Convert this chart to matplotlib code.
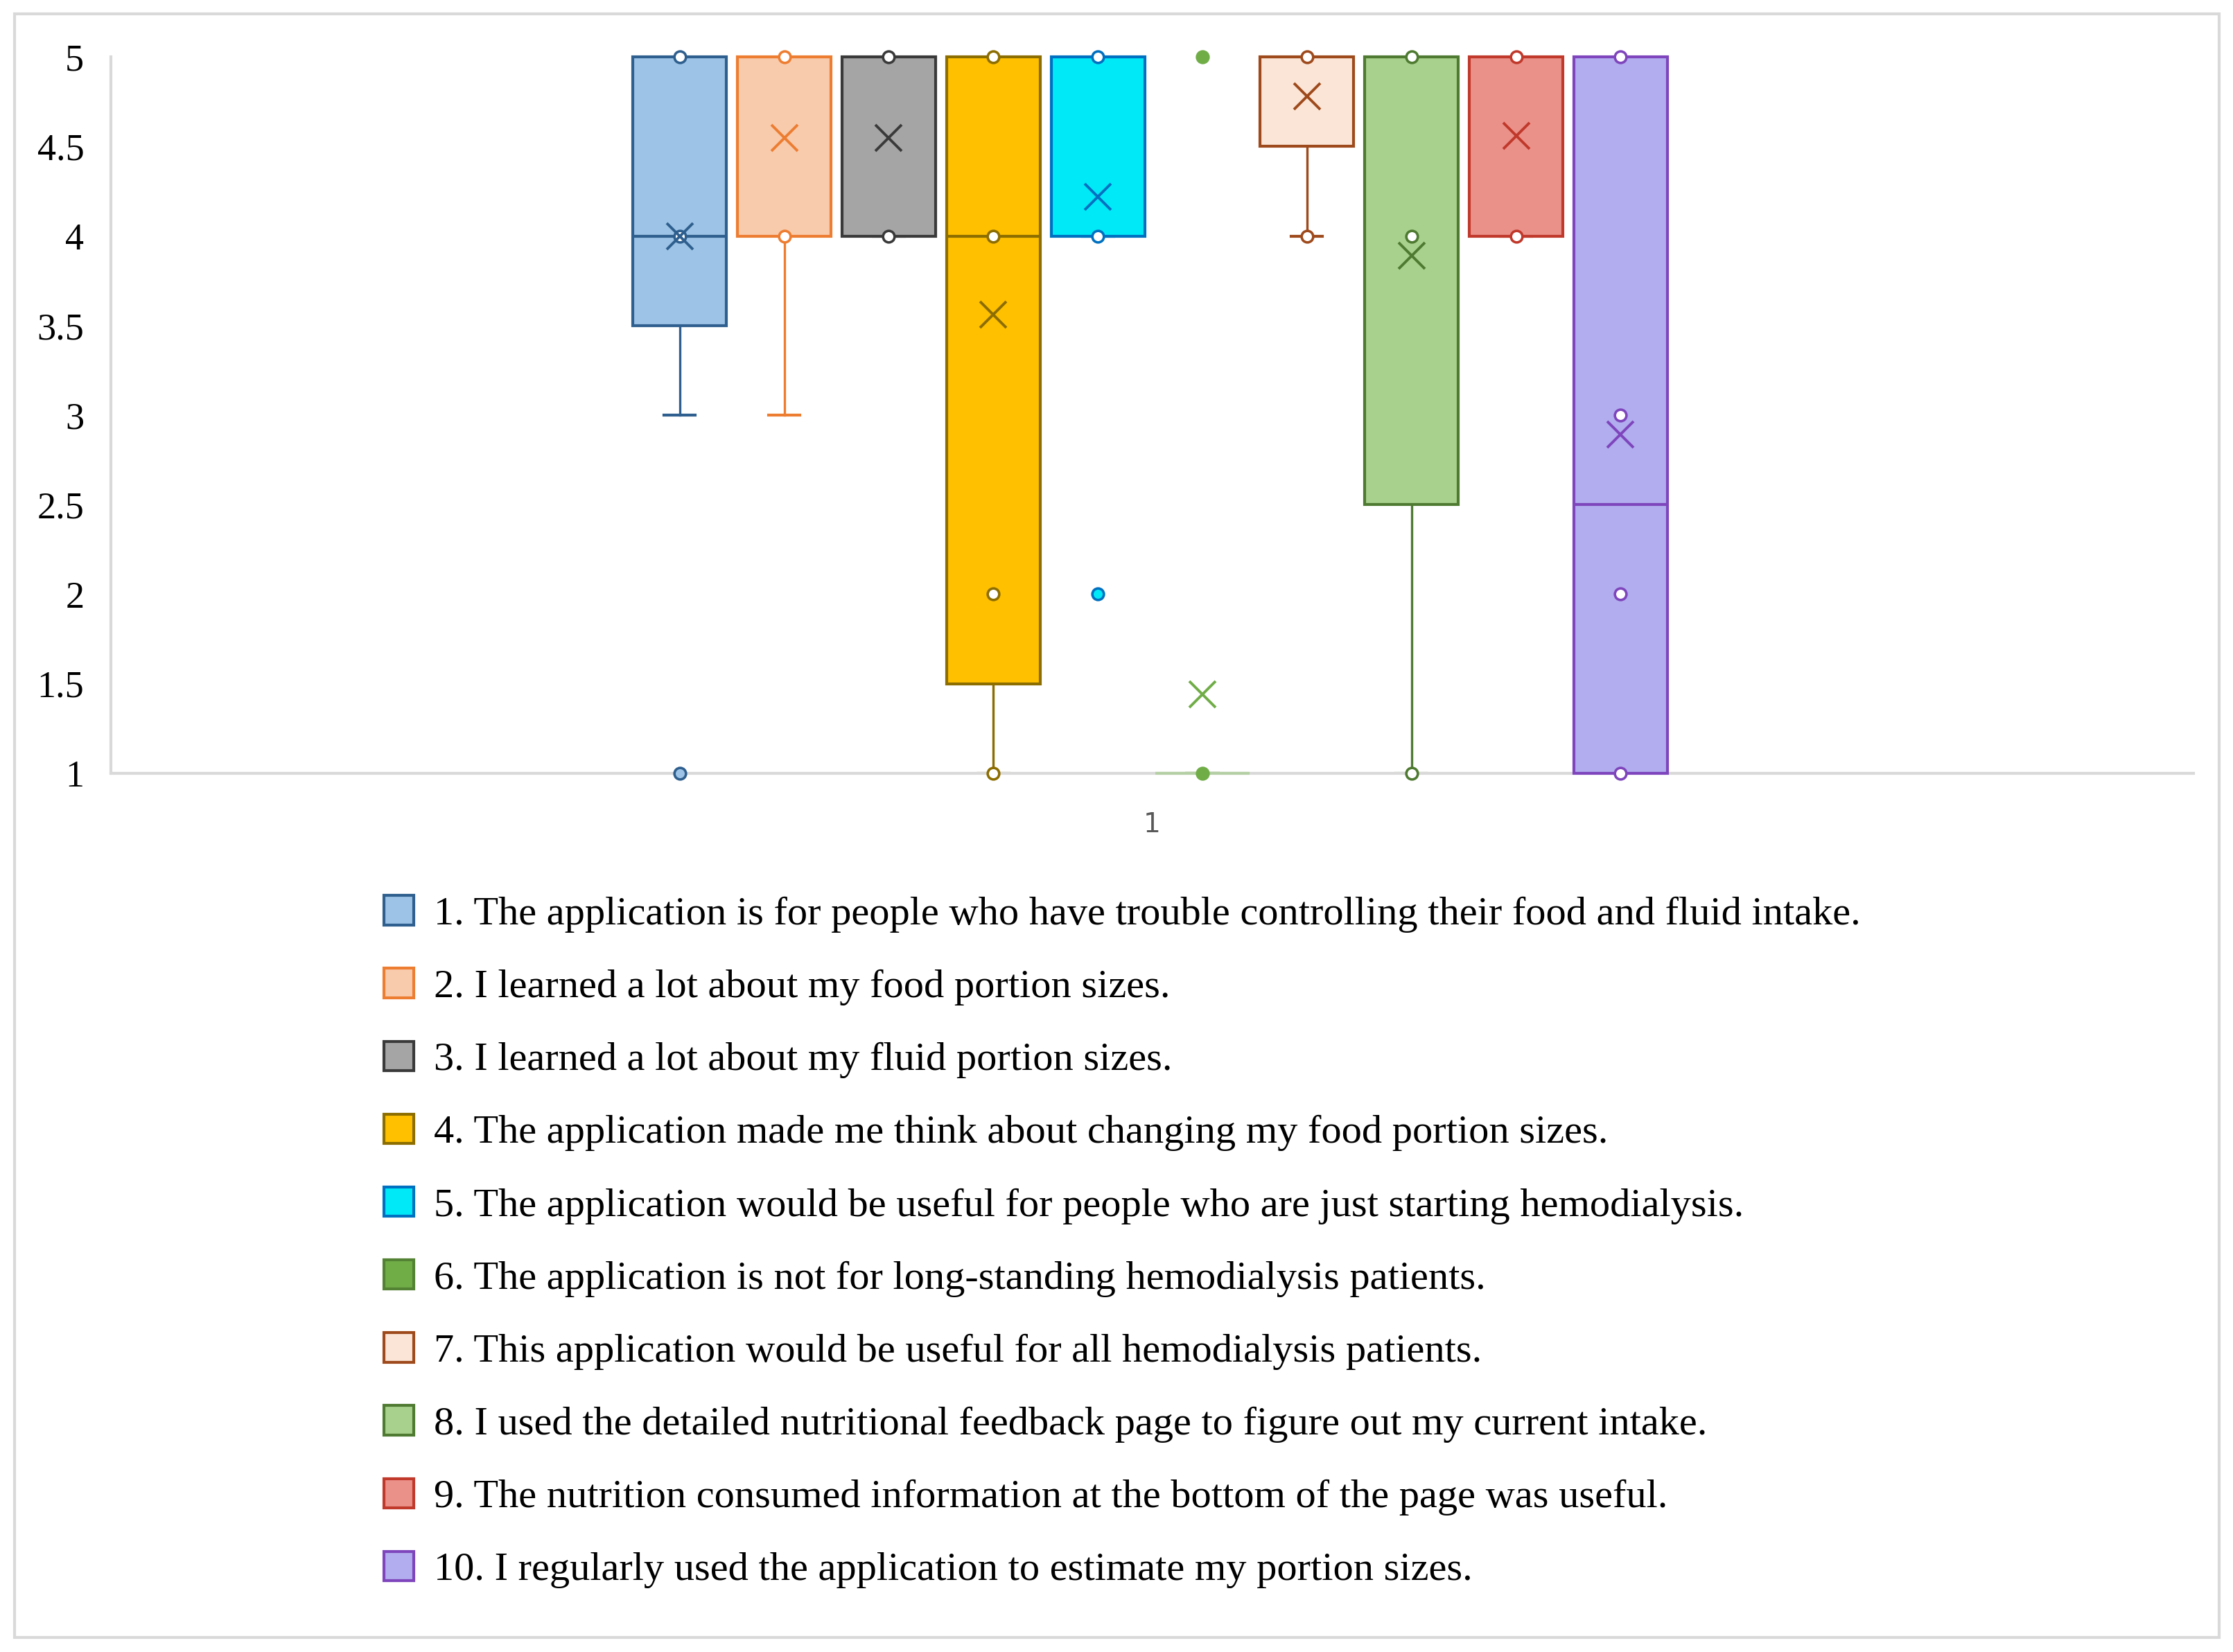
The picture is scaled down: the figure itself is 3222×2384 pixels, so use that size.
import matplotlib
matplotlib.use("Agg")
import matplotlib.pyplot as plt
from matplotlib.patches import Patch, Rectangle

plt.rcParams['font.family'] = ['Liberation Serif', 'DejaVu Serif']

# survey statements (legend labels)
labels = [
    "1. The application is for people who have trouble controlling their food and fluid intake.",
    "2. I learned a lot about my food portion sizes.",
    "3. I learned a lot about my fluid portion sizes.",
    "4. The application made me think about changing my food portion sizes.",
    "5. The application would be useful for people who are just starting hemodialysis.",
    "6. The application is not for long-standing hemodialysis patients.",
    "7. This application would be useful for all hemodialysis patients.",
    "8. I used the detailed nutritional feedback page to figure out my current intake.",
    "9. The nutrition consumed information at the bottom of the page was useful.",
    "10. I regularly used the application to estimate my portion sizes.",
]

# box statistics
q1s = [3.5, 4, 4, 1.5, 4, 1, 4.5, 2.5, 4, 1]
meds = [4, 5, 5, 4, 5, 1, 5, 5, 5, 2.5]
q3s = [5, 5, 5, 5, 5, 1, 5, 5, 5, 5]
lows = [3, 3, 4, 1, 4, 1, 4, 1, 4, 1]
highs = [5, 5, 5, 5, 5, 1, 5, 5, 5, 5]
means = [4.0, 4.55, 4.55, 3.56, 4.22, 1.44, 4.78, 3.89, 4.56, 2.89]
inner_pts = [[5, 4], [5, 4], [5, 4], [5, 4, 2, 1], [5, 4], [], [5, 4], [5, 4, 1], [5, 4], [5, 3, 2, 1]]
outliers = [[1], [], [], [], [2], [5, 1], [], [], [], []]

fills = ['#9DC3E6', '#F8CBAD', '#A5A5A5', '#FFC000', '#00E9F7',
         '#70AD47', '#FBE5D6', '#A9D18E', '#EA918A', '#B1ADEE']
edges = ['#2F5F8E', '#ED7D31', '#3A3A3A', '#8C6D00', '#0070C0',
         '#548235', '#9E4A1C', '#4E7A31', '#C0392B', '#7E45BC']

fig = plt.figure(figsize=(16.115, 11.92), dpi=200)
fig.patches.append(Rectangle((0.0064, 0.0086), 0.987, 0.983, transform=fig.transFigure,
                             fill=False, edgecolor='#D9D9D9', linewidth=1.5))
ax = fig.add_axes([0.0497, 0.532, 0.9323, 0.4335])

pos = [0.998 + (i - 4.5) * 0.1004 for i in range(10)]
stats = []
for i in range(10):
    stats.append(dict(q1=q1s[i], med=meds[i], q3=q3s[i], whislo=lows[i], whishi=highs[i],
                      mean=means[i], fliers=[]))

bp = ax.bxp(stats, positions=pos, widths=0.09, patch_artist=True, showmeans=True,
            showfliers=False, capwidths=0.03, manage_ticks=False)
for i in range(10):
    ec = edges[i]
    if i == 5:
        ec = '#B5CFA5'
    bp['boxes'][i].set_facecolor(fills[i])
    bp['boxes'][i].set_edgecolor(ec)
    bp['boxes'][i].set_linewidth(1.5)
    bp['boxes'][i].set_clip_on(False)
    bp['boxes'][i].set_zorder(3)
    bp['medians'][i].set_color(ec)
    bp['medians'][i].set_linewidth(1.5)
    bp['medians'][i].set_zorder(3.5)
    for w in bp['whiskers'][2 * i:2 * i + 2]:
        w.set_color(edges[i])
        w.set_linewidth(1.2)
    for c in bp['caps'][2 * i:2 * i + 2]:
        c.set_color(edges[i])
        c.set_linewidth(1.5)
    m = bp['means'][i]
    m.set_marker('x')
    m.set_markersize(14)
    m.set_markeredgewidth(1.4)
    m.set_markeredgecolor(edges[i] if i != 5 else '#70AD47')
    m.set_zorder(5)
    if inner_pts[i]:
        ax.plot([pos[i]] * len(inner_pts[i]), inner_pts[i], 'o', ms=6, mfc='white',
                mec=edges[i], mew=1.3, zorder=4, clip_on=False)
    if outliers[i]:
        ax.plot([pos[i]] * len(outliers[i]), outliers[i], 'o', ms=6, mfc=fills[i],
                mec=edges[i] if i != 5 else '#70AD47', mew=1.3, zorder=4, clip_on=False)

ax.set_xlim(0, 2)
ax.set_ylim(1, 5)
ax.set_yticks([1, 1.5, 2, 2.5, 3, 3.5, 4, 4.5, 5])
ax.set_yticklabels(['1', '1.5', '2', '2.5', '3', '3.5', '4', '4.5', '5'], fontsize=19.5)
ax.set_xticks([1])
ax.set_xticklabels(['1'], fontsize=14, color='#595959', family=['DejaVu Sans'])
ax.tick_params(axis='y', length=0, pad=14)
ax.tick_params(axis='x', length=0, pad=20)
for s in ['top', 'right']:
    ax.spines[s].set_visible(False)
for s in ['left', 'bottom']:
    ax.spines[s].set_color('#D9D9D9')
    ax.spines[s].set_linewidth(1.5)

handles = [Patch(facecolor=fills[i], edgecolor=edges[i], linewidth=1.5) for i in range(10)]
fig.legend(handles, labels, loc='upper left', bbox_to_anchor=(0.1645, 0.4677), frameon=False,
           fontsize=21, handlelength=0.74, handleheight=0.74, handletextpad=0.5,
           labelspacing=0.885, borderaxespad=0)

fig.savefig('out.png', dpi=200)
